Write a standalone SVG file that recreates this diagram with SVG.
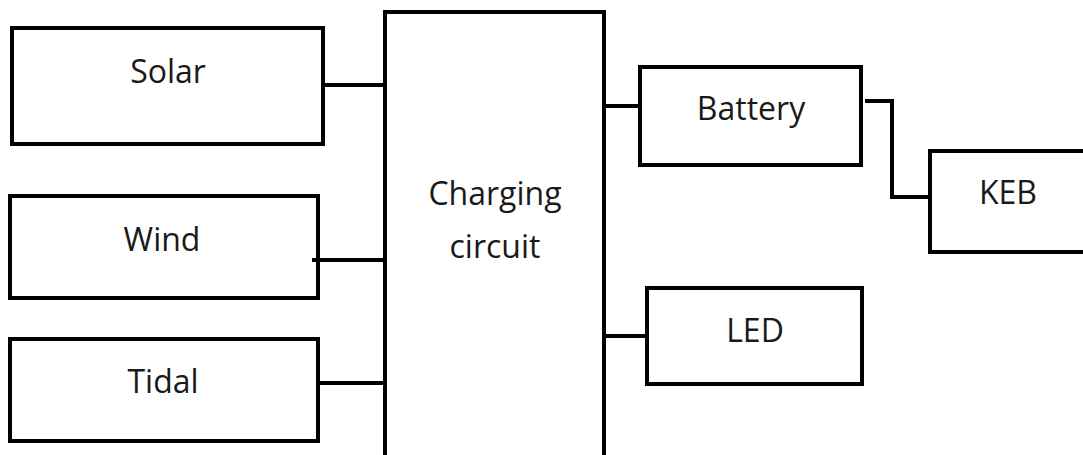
<svg xmlns="http://www.w3.org/2000/svg" width="1083" height="455" viewBox="0 0 1083 455">
<style>
.box{fill:#fff;stroke:#000;stroke-width:4}
.ln{fill:none;stroke:#000;stroke-width:4}
text{font-family:"Open Sans","Noto Sans","Liberation Sans",sans-serif;font-size:32px;fill:#1a1a1a;text-anchor:middle}
</style>
<rect width="1083" height="455" fill="#fff"/>
<g id="charging"><rect class="box" x="385" y="12" width="219" height="460"/><text x="495" y="205">Charging</text><text x="495" y="258">circuit</text></g>
<g id="solar"><rect class="box" x="12" y="28" width="311" height="116"/><text x="168" y="83">Solar</text></g>
<g id="wind"><rect class="box" x="10" y="196" width="308" height="102"/><text x="162" y="251">Wind</text></g>
<g id="tidal"><rect class="box" x="10" y="339" width="308" height="102"/><text x="163" y="393">Tidal</text></g>
<g id="battery"><rect class="box" x="640" y="67" width="221" height="98"/><text x="751" y="120">Battery</text></g>
<g id="keb"><rect class="box" x="930" y="151" width="170" height="101"/><text x="1008" y="204">KEB</text></g>
<g id="led"><rect class="box" x="647" y="288" width="215" height="96"/><text x="755" y="342">LED</text></g>
<g id="connectors">
<line class="ln" x1="323" y1="85" x2="385" y2="85"/>
<line class="ln" x1="312" y1="260" x2="385" y2="260"/>
<line class="ln" x1="318" y1="383" x2="385" y2="383"/>
<line class="ln" x1="604" y1="106" x2="640" y2="106"/>
<polyline class="ln" points="865,101 892,101 892,197 930,197"/>
<line class="ln" x1="604" y1="336" x2="647" y2="336"/>
</g>
</svg>
